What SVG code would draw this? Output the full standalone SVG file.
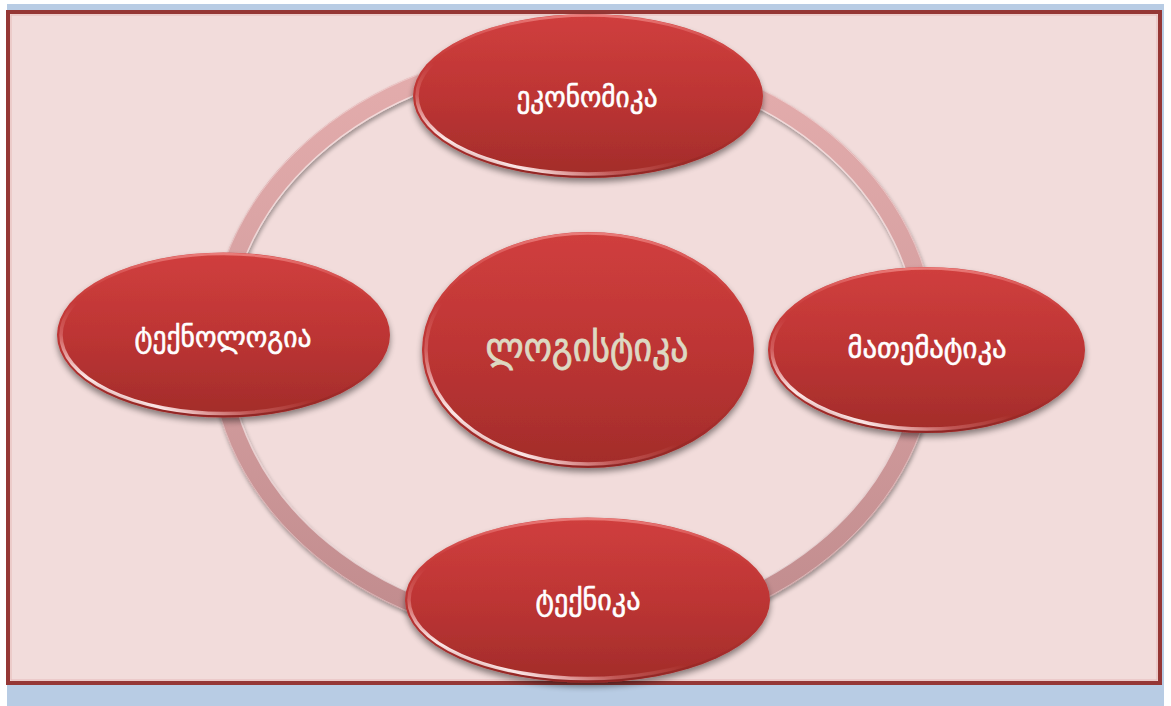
<svg xmlns="http://www.w3.org/2000/svg" width="1171" height="706" viewBox="0 0 1171 706">
  <style>
    .lbl { font-family: "DejaVu Sans", "Noto Sans", sans-serif; font-size: 29px; fill: #ffffff; stroke: #ffffff; stroke-width: 0.6; text-anchor: middle; }
    .ctr { font-family: "DejaVu Sans", "Noto Sans", sans-serif; font-size: 40px; fill: #ddd9c3; stroke: #ddd9c3; stroke-width: 0.8; text-anchor: middle; }
    .body { fill: url(#nodeFill); filter: url(#shadow); }
    .rim { fill: none; stroke: url(#rimGrad); stroke-width: 2.5; }
    .glint { fill: none; stroke: url(#glintGrad); stroke-width: 3.5; }
  </style>
  <defs>
    <linearGradient id="nodeFill" x1="0" y1="0" x2="0" y2="1">
      <stop offset="0" stop-color="#d03f3e"/>
      <stop offset="0.5" stop-color="#bd3534"/>
      <stop offset="1" stop-color="#a22c2a"/>
    </linearGradient>
    <linearGradient id="rimGrad" x1="0" y1="0" x2="0" y2="1">
      <stop offset="0" stop-color="#f08a88" stop-opacity="0.8"/>
      <stop offset="0.25" stop-color="#d9504e" stop-opacity="0.15"/>
      <stop offset="0.6" stop-color="#a52b2a" stop-opacity="0"/>
      <stop offset="1" stop-color="#7e1f1e" stop-opacity="0.5"/>
    </linearGradient>
    <linearGradient id="glintGrad" x1="0.05" y1="0.9" x2="0.35" y2="0.55">
      <stop offset="0" stop-color="#ffffff" stop-opacity="0"/>
      <stop offset="0.25" stop-color="#fff0f0" stop-opacity="0.95"/>
      <stop offset="0.6" stop-color="#f4a3a2" stop-opacity="0.35"/>
      <stop offset="1" stop-color="#f4a3a2" stop-opacity="0"/>
    </linearGradient>
    <linearGradient id="ringGrad" x1="0" y1="0" x2="0" y2="1">
      <stop offset="0" stop-color="#e4adad"/>
      <stop offset="0.5" stop-color="#d49e9f"/>
      <stop offset="1" stop-color="#c08b8d"/>
    </linearGradient>
    <filter id="shadow" x="-10%" y="-10%" width="120%" height="130%">
      <feGaussianBlur in="SourceAlpha" stdDeviation="3"/>
      <feOffset dx="0" dy="4" result="b"/>
      <feComponentTransfer><feFuncA type="linear" slope="0.45"/></feComponentTransfer>
      <feMerge><feMergeNode/><feMergeNode in="SourceGraphic"/></feMerge>
    </filter>
    <filter id="ringShadow" x="-10%" y="-10%" width="120%" height="120%">
      <feGaussianBlur in="SourceAlpha" stdDeviation="2"/>
      <feOffset dx="1" dy="3"/>
      <feComponentTransfer><feFuncA type="linear" slope="0.35"/></feComponentTransfer>
      <feMerge><feMergeNode/><feMergeNode in="SourceGraphic"/></feMerge>
    </filter>
  </defs>

  <!-- background -->
  <rect x="7" y="4" width="1157" height="702" fill="#b8cce4"/>
  <rect x="8" y="12" width="1152" height="671" fill="#f2dcdb" stroke="#953735" stroke-width="4"/>
  <rect x="11" y="15" width="1146" height="665" fill="none" stroke="#e6b9b8" stroke-width="1"/>

  <!-- connectors: ring -->
  <g id="connectors">
    <ellipse cx="573" cy="345" rx="354" ry="290" fill="none" stroke="url(#ringGrad)" stroke-width="19" filter="url(#ringShadow)"/>
    <ellipse cx="573" cy="345" rx="345" ry="281" fill="none" stroke="#ffffff" stroke-opacity="0.55" stroke-width="1.5"/>
    <ellipse cx="573" cy="345" rx="363" ry="299" fill="none" stroke="#ffffff" stroke-opacity="0.35" stroke-width="1"/>
  </g>

  <g id="node-center">
    <ellipse class="body" cx="588" cy="350" rx="166" ry="118"/>
    <ellipse class="rim" cx="588" cy="350" rx="164.5" ry="116.5"/>
    <ellipse class="glint" cx="588" cy="350" rx="162" ry="114"/>
    <text class="ctr" x="587" y="361" textLength="203" lengthAdjust="spacingAndGlyphs">ლოგისტიკა</text>
  </g>

  <g id="node-top">
    <ellipse class="body" cx="588" cy="96" rx="175" ry="82"/>
    <ellipse class="rim" cx="588" cy="96" rx="173.5" ry="80.5"/>
    <ellipse class="glint" cx="588" cy="96" rx="171" ry="78"/>
    <text class="lbl" x="587" y="107" textLength="141" lengthAdjust="spacingAndGlyphs">ეკონომიკა</text>
  </g>

  <g id="node-right">
    <ellipse class="body" cx="926.5" cy="350" rx="158.5" ry="83"/>
    <ellipse class="rim" cx="926.5" cy="350" rx="157" ry="81.5"/>
    <ellipse class="glint" cx="926.5" cy="350" rx="154.5" ry="79"/>
    <text class="lbl" x="927" y="358" textLength="159" lengthAdjust="spacingAndGlyphs">მათემატიკა</text>
  </g>

  <g id="node-left">
    <ellipse class="body" cx="223.5" cy="335" rx="166.5" ry="82.5"/>
    <ellipse class="rim" cx="223.5" cy="335" rx="165" ry="81"/>
    <ellipse class="glint" cx="223.5" cy="335" rx="162.5" ry="78.5"/>
    <text class="lbl" x="223" y="347" textLength="177" lengthAdjust="spacingAndGlyphs">ტექნოლოგია</text>
  </g>

  <g id="node-bottom">
    <ellipse class="body" cx="587.5" cy="600" rx="182.5" ry="82.5"/>
    <ellipse class="rim" cx="587.5" cy="600" rx="181" ry="81"/>
    <ellipse class="glint" cx="587.5" cy="600" rx="178.5" ry="78.5"/>
    <text class="lbl" x="588" y="610" textLength="105" lengthAdjust="spacingAndGlyphs">ტექნიკა</text>
  </g>
</svg>
